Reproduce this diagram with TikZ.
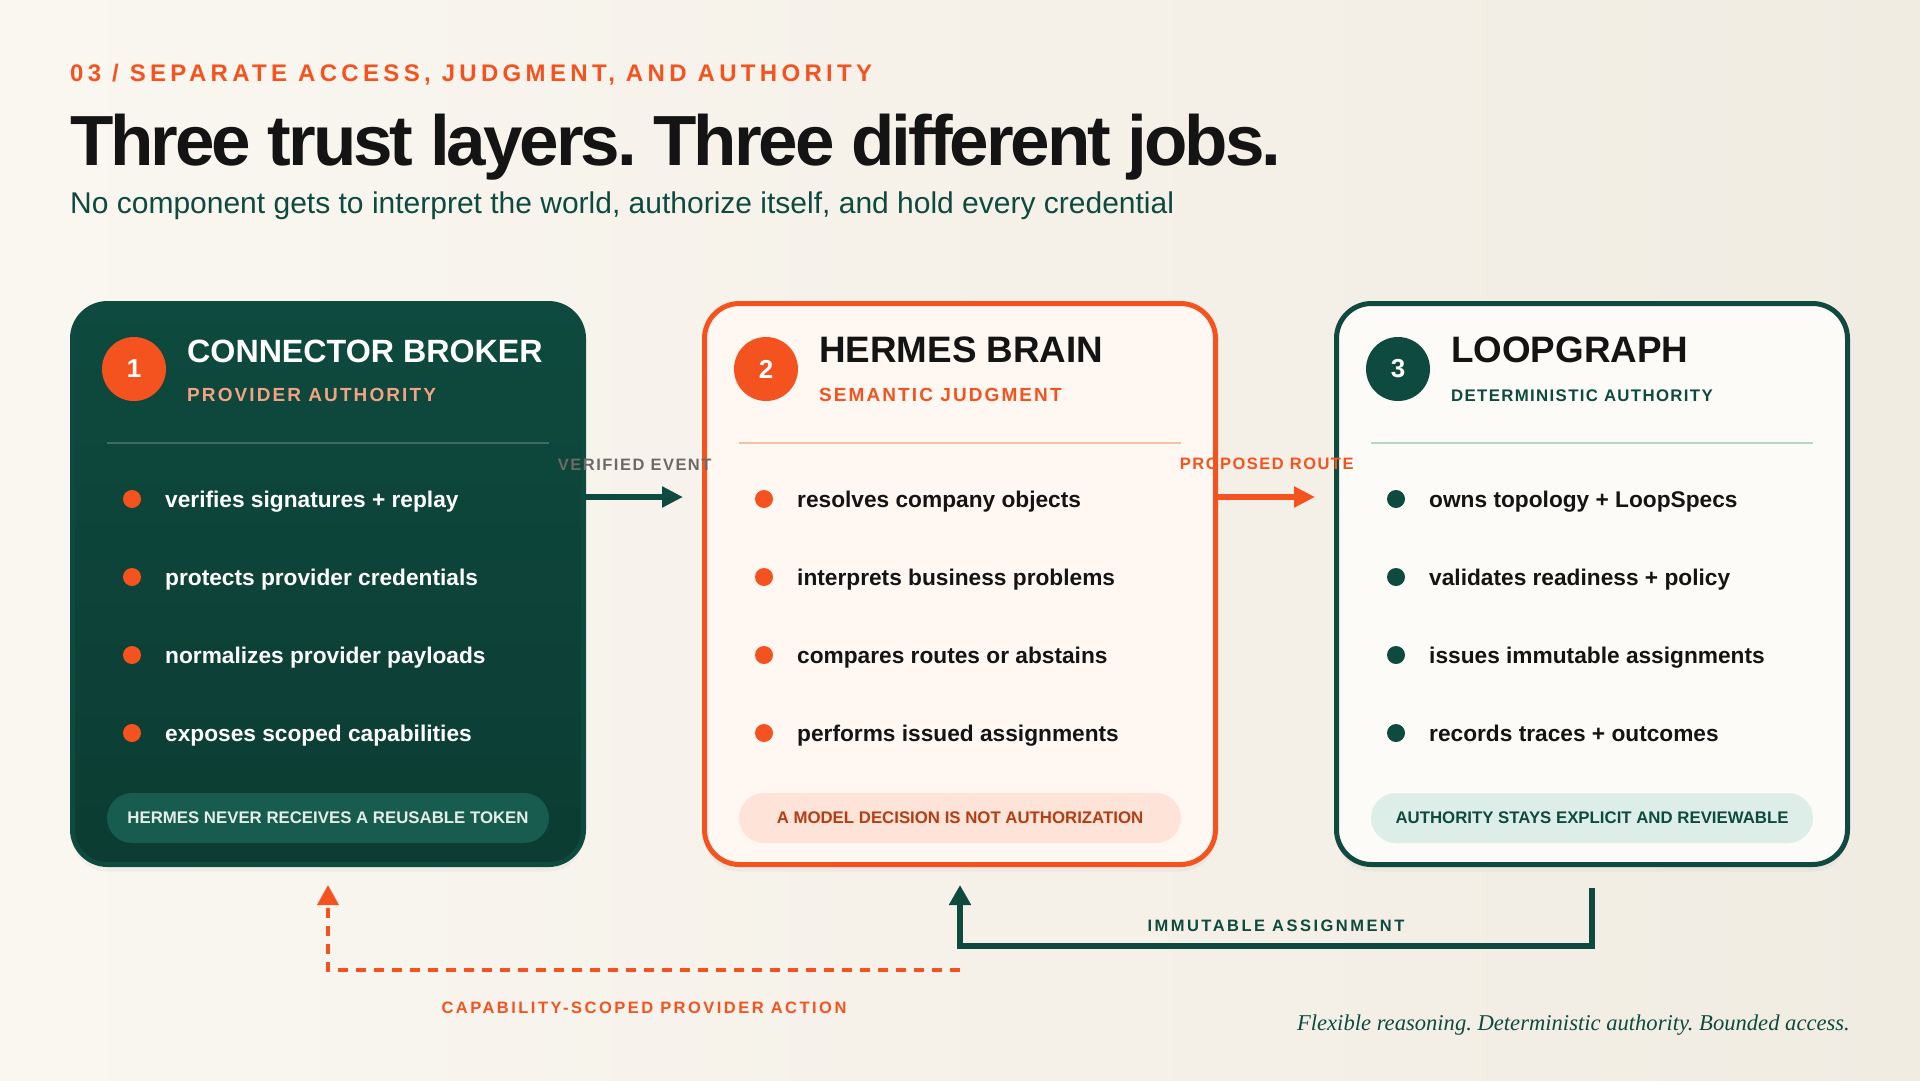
\documentclass[tikz,border=0pt]{standalone}
\usepackage{fontspec}
\setmainfont{Liberation Sans}
\newfontfamily\tightfont[LetterSpace=-4.3]{Liberation Sans}
\newfontfamily\trackfont[LetterSpace=18]{Liberation Sans}
\newfontfamily\capsfont[LetterSpace=11]{Liberation Sans}
\newfontfamily\smallcapsfont[LetterSpace=8]{Liberation Sans}
\newfontfamily\tagfont[LetterSpace=9]{Liberation Sans}
\newfontfamily\wayfont[LetterSpace=15]{Liberation Sans}
\newfontfamily\notefont{Liberation Serif}
\usetikzlibrary{arrows.meta,shadows}
\frenchspacing

\definecolor{pine}{HTML}{0E4A3F}
\definecolor{pinedeep}{HTML}{0C3C32}
\definecolor{ember}{HTML}{F4531F}
\definecolor{salmon}{HTML}{F2A383}
\definecolor{ink}{HTML}{141414}
\definecolor{smoke}{HTML}{6B6A66}
\definecolor{bgL}{HTML}{FAF7F1}
\definecolor{bgR}{HTML}{F1ECE2}
\definecolor{rule1}{HTML}{3D6B60}
\definecolor{rule2}{HTML}{F5C0A8}
\definecolor{rule3}{HTML}{B4D5CC}
\definecolor{pill1}{HTML}{185C4F}
\definecolor{pill2}{HTML}{FDE3D8}
\definecolor{pill3}{HTML}{DDEEE8}
\definecolor{pilltxt1}{HTML}{E4EEE9}
\definecolor{pilltxt2}{HTML}{B43D14}
\definecolor{paper2}{HTML}{FFF7F2}
\definecolor{paper3}{HTML}{FDFBF7}

\begin{document}
\begin{tikzpicture}[x=1pt, y=-1pt,
	card/.style={minimum width=511pt, minimum height=561pt, rounded corners=35pt, line width=5pt, inner sep=0pt, drop shadow={shadow xshift=0pt, shadow yshift=-7pt, opacity=.07}},
	badge/.style={circle, minimum size=64pt, inner sep=0pt, text=white, font=\bfseries\fontsize{26}{26}\selectfont},
	head/.style={anchor=base west, inner sep=0pt, text=ink, font=\bfseries\fontsize{36.8}{40}\selectfont},
	role/.style={anchor=base west, inner sep=0pt, font=\capsfont\bfseries\fontsize{19}{22}\selectfont},
	item/.style={anchor=base west, inner sep=0pt, font=\bfseries\fontsize{22.7}{27}\selectfont},
	rule/.style={line width=2pt},
	pill/.style={rounded corners=25pt, minimum width=442pt, minimum height=50pt, inner sep=0pt, font=\bfseries\fontsize{16.8}{20}\selectfont},
	flow/.style={line width=6pt, -{Triangle[length=21pt,width=20pt]}},
	tag/.style={inner sep=0pt, font=\tagfont\bfseries\fontsize{16.5}{20}\selectfont},
	way/.style={inner sep=0pt, font=\wayfont\bfseries\fontsize{16.5}{20}\selectfont}]
	\useasboundingbox (0,0) rectangle (1920,1080);
	\shade[left color=bgL, right color=bgR] (0,0) rectangle (1920,1080);

	\node[anchor=base west, inner sep=0pt, text=ember, font=\trackfont\bfseries\fontsize{24}{28}\selectfont] (kicker) at (70,81) {03 / SEPARATE ACCESS, JUDGMENT, AND AUTHORITY};
	\node[anchor=base west, inner sep=0pt, text=ink, font=\tightfont\bfseries\fontsize{71}{80}\selectfont] (title) at (70,165) {Three trust layers. Three different jobs.};
	\node[anchor=base west, inner sep=0pt, text=pine, font=\fontsize{30}{36}\selectfont] (lede) at (70,213) {No component gets to interpret the world, authorize itself, and hold every credential};

	\node[card, draw=pine, top color=pine, bottom color=pinedeep] (broker) at (328,584) {};
	\node[card, draw=ember, fill=paper2] (brain) at (960,584) {};
	\node[card, draw=pine, fill=paper3] (loop) at (1592,584) {};

	\node[badge, fill=ember] (n1) at ([shift={(64,68)}]broker.north west) {1};
	\node[head, text=white, font=\bfseries\fontsize{32.2}{36}\selectfont] (h1) at ([shift={(117,61)}]broker.north west) {CONNECTOR BROKER};
	\node[role, text=salmon] (r1) at ([shift={(117,100)}]broker.north west) {PROVIDER AUTHORITY};
	\draw[rule, rule1] ([shift={(37,142)}]broker.north west) -- ([shift={(-37,142)}]broker.north east);
	\foreach \txt [count=\i] in {verifies signatures + replay, protects provider credentials, normalizes provider payloads, exposes scoped capabilities} {
		\fill[ember] ([shift={(62,120+78*\i)}]broker.north west) circle (9pt);
		\node[item, text=white] (i1-\i) at ([shift={(95,128+78*\i)}]broker.north west) {\txt};
	}
	\node[pill, fill=pill1, text=pilltxt1] (p1) at ([shift={(0,-49)}]broker.south) {HERMES NEVER RECEIVES A REUSABLE TOKEN};

	\node[badge, fill=ember] (n2) at ([shift={(64,68)}]brain.north west) {2};
	\node[head] (h2) at ([shift={(117,61)}]brain.north west) {HERMES BRAIN};
	\node[role, text=ember] (r2) at ([shift={(117,100)}]brain.north west) {SEMANTIC JUDGMENT};
	\draw[rule, rule2] ([shift={(37,142)}]brain.north west) -- ([shift={(-37,142)}]brain.north east);
	\foreach \txt [count=\i] in {resolves company objects, interprets business problems, compares routes or abstains, performs issued assignments} {
		\fill[ember] ([shift={(62,120+78*\i)}]brain.north west) circle (9pt);
		\node[item, text=ink] (i2-\i) at ([shift={(95,128+78*\i)}]brain.north west) {\txt};
	}
	\node[pill, fill=pill2, text=pilltxt2] (p2) at ([shift={(0,-49)}]brain.south) {A MODEL DECISION IS NOT AUTHORIZATION};

	\node[badge, fill=pine] (n3) at ([shift={(64,68)}]loop.north west) {3};
	\node[head] (h3) at ([shift={(117,61)}]loop.north west) {LOOPGRAPH};
	\node[role, text=pine, font=\smallcapsfont\bfseries\fontsize{16.8}{20}\selectfont] (r3) at ([shift={(117,100)}]loop.north west) {DETERMINISTIC AUTHORITY};
	\draw[rule, rule3] ([shift={(37,142)}]loop.north west) -- ([shift={(-37,142)}]loop.north east);
	\foreach \txt [count=\i] in {owns topology + LoopSpecs, validates readiness + policy, issues immutable assignments, records traces + outcomes} {
		\fill[pine] ([shift={(62,120+78*\i)}]loop.north west) circle (9pt);
		\node[item, text=ink] (i3-\i) at ([shift={(95,128+78*\i)}]loop.north west) {\txt};
	}
	\node[pill, fill=pill3, text=pine] (p3) at ([shift={(0,-49)}]loop.south) {AUTHORITY STAYS EXPLICIT AND REVIEWABLE};

	\coordinate (lane) at (0,497);
	\draw[flow, pine, shorten >=19pt] (broker.east |- lane) -- node[tag, text=smoke, above=24pt, pos=.42] (ev) {VERIFIED EVENT} (brain.west |- lane);
	\draw[flow, ember, shorten >=19pt] (brain.east |- lane) -- node[tag, text=ember, above=24pt, pos=.42] (pr) {PROPOSED ROUTE} (loop.west |- lane);

	\draw[pine, line width=6pt, -{Triangle[length=20pt,width=21pt]}, shorten <=21pt, shorten >=18pt] (loop.south) -- ++(0,79) -| node[way, text=pine, pos=.25, above=11pt] (ia) {IMMUTABLE ASSIGNMENT} (brain.south);
	\draw[ember, line width=4pt, dash pattern=on 10pt off 8pt, -{Triangle[length=20pt,width=21pt]}, shorten >=18pt] ([yshift=-103pt]brain.south) -| node[way, text=ember, pos=.25, below=30pt] (ca) {CAPABILITY-SCOPED PROVIDER ACTION} (broker.south);

	\node[anchor=base east, inner sep=0pt, text=pine, font=\notefont\itshape\fontsize{22.6}{26}\selectfont] (note) at (1850,1030) {Flexible reasoning. Deterministic authority. Bounded access.};
\end{tikzpicture}
\end{document}
